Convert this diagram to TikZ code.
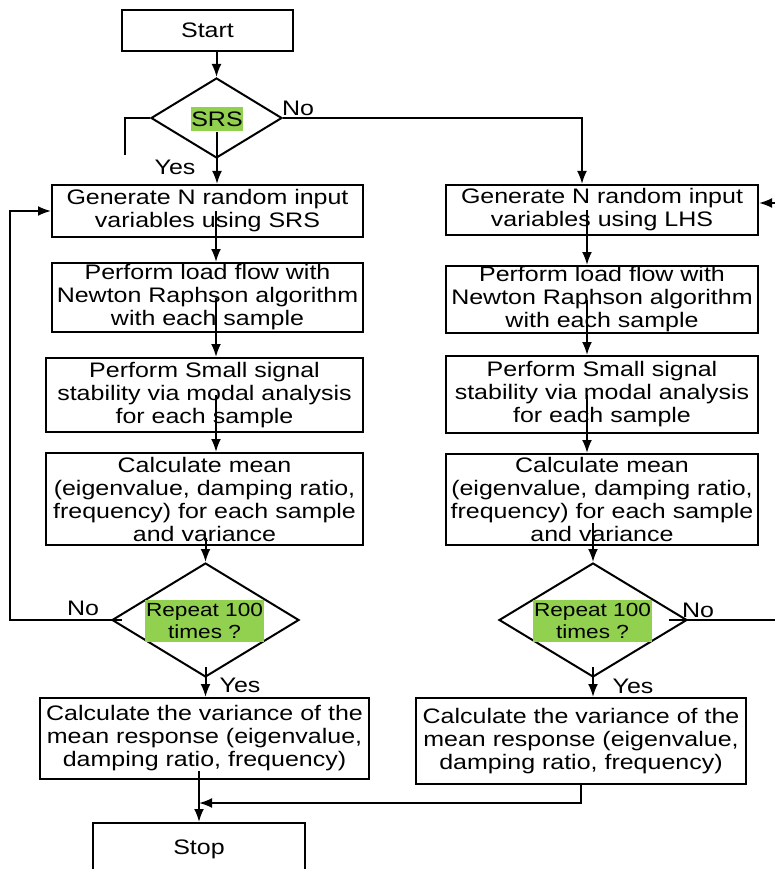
\documentclass[tikz,border=0pt]{standalone}
\usepackage{fontspec}
\setmainfont{Liberation Sans}[FakeStretch=1.19]
\usetikzlibrary{arrows.meta, shapes.geometric}
\definecolor{labelgreen}{HTML}{92D050}

\tikzset{
  box/.style={draw, inner sep=0pt, align=center},
  decision/.style={draw, diamond, inner sep=0pt},
  greenlabel/.style={fill=labelgreen, inner sep=0pt, align=center},
}

\begin{document}
\begin{tikzpicture}[x=1pt, y=-1pt, >={Latex[length=13pt,width=10pt]}, line width=2pt,
    font=\fontsize{21}{23}\selectfont]
		\path[use as bounding box] (0,0) rectangle (775,869);
		\clip (0,0) rectangle (775,869);

		% left branch (SRS)
		\node[box, minimum width=171pt, minimum height=41pt] (start) at (207.5,30.5) {Start};
		\node[decision, minimum width=131pt, minimum height=80pt] (srs) at (216.5,118) {};
		\node[greenlabel, minimum width=52pt, minimum height=24pt] (srstext) at (217,119) {SRS};
		\node[box, minimum width=311pt, minimum height=52pt] (gensrs) at (207.5,211) {Generate N random input\\variables using SRS};
		\node[box, minimum width=311pt, minimum height=69pt] (loadsrs) at (207.5,297.5) {Perform load flow with\\Newton Raphson algorithm\\with each sample};
		\node[box, minimum width=317pt, minimum height=74pt] (smallsrs) at (204.5,395) {Perform Small signal\\stability via modal analysis\\for each sample};
		\node[box, minimum width=317pt, minimum height=92pt] (meansrs) at (204.5,499) {Calculate mean\\(eigenvalue, damping ratio,\\frequency) for each sample\\and variance};
		\node[decision, minimum width=187pt, minimum height=114pt] (repsrs) at (205.5,620) {};
		\node[greenlabel, minimum width=119pt, minimum height=42pt, font=\fontsize{19}{22}\selectfont] (reptextsrs) at (204.5,621) {Repeat 100\\times ?};
		\node[box, minimum width=329pt, minimum height=81pt] (varsrs) at (204.5,738.5) {Calculate the variance of the\\mean response (eigenvalue,\\damping ratio, frequency)};
		\node[box, minimum width=212pt, minimum height=52pt] (stop) at (199,849) {Stop};

		% right branch (LHS)
		\node[box, minimum width=312pt, minimum height=50pt] (genlhs) at (602,210) {Generate N random input\\variables using LHS};
		\node[box, minimum width=312pt, minimum height=67pt] (loadlhs) at (602,299.5) {Perform load flow with\\Newton Raphson algorithm\\with each sample};
		\node[box, minimum width=312pt, minimum height=77pt] (smalllhs) at (602,394.5) {Perform Small signal\\stability via modal analysis\\for each sample};
		\node[box, minimum width=312pt, minimum height=91pt] (meanlhs) at (602,499.5) {Calculate mean\\(eigenvalue, damping ratio,\\frequency) for each sample\\and variance};
		\node[decision, minimum width=188pt, minimum height=114pt] (replhs) at (593,620) {};
		\node[greenlabel, minimum width=119pt, minimum height=42pt, font=\fontsize{19}{22}\selectfont] (reptextlhs) at (592.5,621) {Repeat 100\\times ?};
		\node[box, minimum width=330pt, minimum height=86pt] (varlhs) at (581,741) {Calculate the variance of the\\mean response (eigenvalue,\\damping ratio, frequency)};

		% branch labels
		\node (nosrs) at (298,108) {No};
		\node (yessrs) at (175,167) {Yes};
		\node (noleft) at (83,608) {No};
		\node (yesleft) at (240,685) {Yes};
		\node (noright) at (698,610) {No};
		\node (yesright) at (633,686) {Yes};

		% column and loop coordinates
		\coordinate (lcol) at (216,0);
		\coordinate (rtop) at (582,0);
		\coordinate (rcol) at (587,0);
		\coordinate (lloop) at (10,0);
		\coordinate (rloop) at (795,0);
		\coordinate (stub) at (125,155);
		\coordinate (join) at (199,803);

		\draw[->] (start.south -| srs.north) -- (srs.north);
		\draw (srs.west) -| (stub);
		\draw[->] (srstext.south) -- (gensrs.north -| srstext.south);
		\draw[->] (srs.east) -| (genlhs.north -| rtop);

		\draw[->] (gensrs.center -| lcol)   -- (loadsrs.north -| lcol);
		\draw[->] (loadsrs.center -| lcol)  -- (smallsrs.north -| lcol);
		\draw[->] (smallsrs.center -| lcol) -- (meansrs.north -| lcol);
		\draw[->] ([yshift=8pt]meansrs.south -| repsrs.north) -- (repsrs.north);
		\draw[->] ([yshift=11pt]repsrs.south) -- (varsrs.north -| repsrs.south);
		\draw[->] ([xshift=11pt]repsrs.west) -- (repsrs.west -| lloop) |- (gensrs.west);
		\draw[->] ([yshift=9pt]varsrs.south -| stop.north) -- (stop.north);

		\draw[->] (genlhs.center -| rcol)   -- (loadlhs.north -| rcol);
		\draw[->] (loadlhs.center -| rcol)  -- (smalllhs.north -| rcol);
		\draw[->] (smalllhs.center -| rcol) -- (meanlhs.north -| rcol);
		\draw[->] ([yshift=23pt]meanlhs.south -| replhs.north) -- (replhs.north);
		\draw[->] ([yshift=11pt]replhs.south) -- (varlhs.north -| replhs.south);
		\draw[->] ([xshift=-19pt]replhs.east) -- (replhs.east -| rloop) |- ([yshift=7pt]genlhs.east);
		\draw[->] (varlhs.south) |- (join);
	\end{tikzpicture}
\end{document}
